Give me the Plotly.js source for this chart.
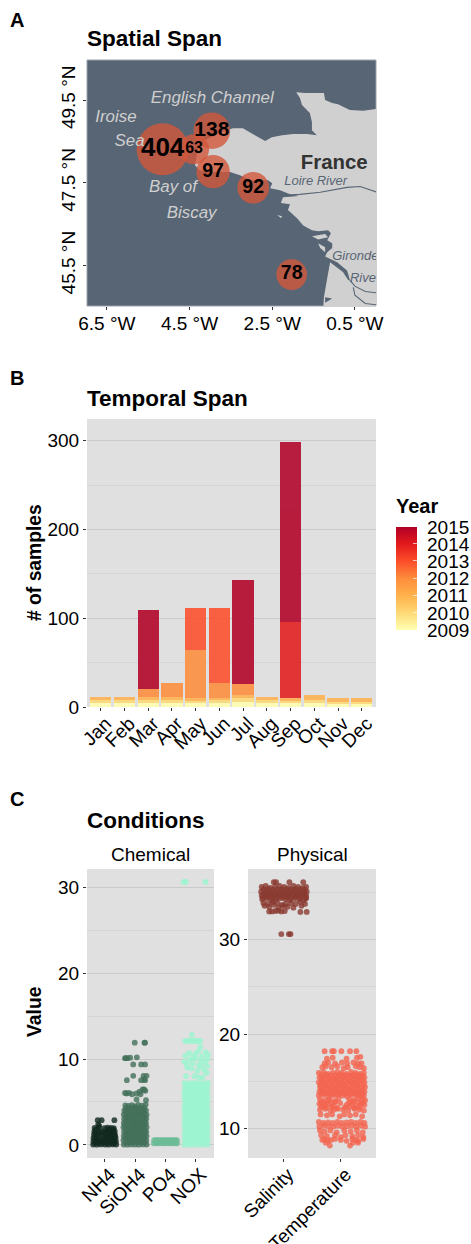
<!DOCTYPE html>
<html><head><meta charset="utf-8">
<script src="https://cdn.plot.ly/plotly-3.0.1.min.js"></script>
<style>html,body{margin:0;padding:0;background:#fff}</style></head>
<body><div id="chart" style="width:471px;height:1244px"></div>
<script>
// ---------- Panel A data (degrees) ----------
const landLon=[0.1,-0.30,-0.62,-0.91,-1.05,-1.22,-1.25,-1.46,-1.71,-1.92,-1.83,-1.78,-1.59,-1.54,-1.54,-1.42,-1.66,-2.00,-2.26,-2.51,-2.67,-2.92,-3.21,-3.45,-3.72,-4.13,-4.30,-4.37,-4.25,-3.89,-3.52,-3.28,-3.04,-2.60,-2.50,-2.55,-2.31,-2.07,-1.85,-2.07,-2.24,-2.29,-2.07,-2.12,-1.90,-1.75,-1.54,-1.39,-1.15,-1.08,-1.17,-1.05,-1.05,-1.17,-1.22,-0.93,-0.69,-0.62,-0.66,-0.79,-1.10,-1.17,-1.25,-1.27,0.1];
const landLat=[49.30,49.24,49.26,49.40,49.43,49.50,49.67,49.67,49.67,49.69,49.55,49.38,49.19,48.97,48.77,48.65,48.68,48.68,48.65,48.60,48.51,48.65,48.82,48.82,48.73,48.53,48.29,47.93,47.80,47.76,47.76,47.68,47.56,47.56,47.49,47.37,47.32,47.22,47.18,47.16,47.15,47.01,46.98,46.84,46.64,46.47,46.35,46.33,46.35,46.28,46.11,46.04,45.92,45.82,45.72,45.58,45.38,45.14,45.14,45.34,45.58,45.19,44.73,44.4,44.4];
const islandLon=[-1.54,-1.22,-1.15,-1.39,-1.54,null,-1.39,-1.22,-1.22,-1.34,-1.39,null,-2.38,-2.26,-2.29,-2.38,-2.38];
const islandLat=[46.21,46.26,46.18,46.13,46.21,null,46.04,45.94,45.82,45.92,46.04,null,46.72,46.69,46.65,46.70,46.72];
const basinLon=[-1.22,-1.05,-1.22,-1.22];
const basinLat=[44.73,44.70,44.60,44.73];
const riverLon=[-2.24,-1.83,-1.34,-0.69,-0.37,0.1,null,-0.62,-0.50,-0.25,0.1,null,-0.54,-0.50,-0.25,0.1];
const riverLat=[47.20,47.22,47.27,47.39,47.41,47.25,null,45.14,45.0,44.87,44.83,null,44.97,44.78,44.58,44.54];
const siteLon=[-5.15,-4.39,-3.96,-3.93,-2.96,-2.03];
const siteLat=[48.31,48.31,48.76,47.77,47.38,45.28];
const siteCount=[404,63,138,97,92,78];
const siteDiam=[52,30,36.6,33.4,31.6,30.6];
const siteFont=[26,16,21,19.5,19.5,19.5];
const seaNames=['English Channel','Iroise','Sea','Bay of','Biscay'];
const seaLon=[-3.95,-6.28,-5.95,-4.9,-4.45];
const seaLat=[49.52,49.08,48.48,47.37,46.75];
const xTicksA=[-6.5,-4.5,-2.5,-0.5], xLabelsA=['6.5 °W','4.5 °W','2.5 °W','0.5 °W'];
const yTicksA=[45.5,47.5,49.5], yLabelsA=['45.5 °N','47.5 °N','49.5 °N'];

// ---------- Panel B data ----------
const months=['Jan','Feb','Mar','Apr','May','Jun','Jul','Aug','Sep','Oct','Nov','Dec'];
const monthIdx=[1,2,3,4,5,6,7,8,9,10,11,12];
const years=[2009,2010,2011,2012,2013,2014,2015];
const y2009=[4,4,4,4,4,4,6,4,4,4,3,3];
const y2010=[4,4,4,4,3,4,4,4,3,4,3,3];
const y2011=[3.5,3.5,3.5,3,3,2,3,3.5,3,5.5,4,4];
const y2012=[0,0,9,15.5,54,17,13,0,0,0,0,0];
const y2013=[0,0,0,0,48,85,0,0,0,0,0,0];
const y2014=[0,0,0,0,0,0,0,0,86,0,0,0];
const y2015=[0,0,88.5,0,0,0,117,0,203,0,0,0];
const yearCounts=[y2009,y2010,y2011,y2012,y2013,y2014,y2015];
const yearColours=['#FFFFB2','#FED976','#FEB24C','#FD8D3C','#FC4E2A','#E31A1C','#B10026'];

// ---------- Panel C data ----------
const chemNames=['NH4','SiOH4','PO4','NOX'];
const physNames=['Salinity','Temperature'];
const nh4X=[.62,.74,.88,1.01,1.13,1.27,1.38,.63,.76,.87,1.0,1.14,1.25,1.37,.63,.75,.89,1.02,1.12,1.26,1.36,.65,.77,.9,1.03,1.15,1.28,1.34,.66,.78,.91,1.06,1.17,1.27,1.33,.67,.8,.99,1.09,1.2,1.3,.77,.9,1.32,.79,.82,
.68,.81,.94,1.07,1.2,1.32,.69,.82,.95,1.08,1.21,1.31,.68,1.08,1.19,1.33,.7,.83,.96,1.09,1.22,1.3,.72,1.1,1.18,1.29];
const nh4Y=[.05,.04,.06,.05,.04,.06,.05,.42,.38,.44,.4,.41,.37,.43,.8,.84,.78,.82,.85,.79,.81,1.22,1.18,1.25,1.2,1.17,1.23,1.19,1.6,1.56,1.62,1.58,1.63,1.57,1.6,2.0,1.98,1.96,2.02,2.0,1.97,2.88,2.88,2.88,2.4,2.2,
.22,.2,.24,.21,.23,.2,.6,.62,.58,.61,.59,.63,1.0,1.02,.98,1.01,1.4,1.38,1.42,1.39,1.41,1.37,1.8,1.78,1.82,1.79];
const siX=[1.63,1.75,1.88,2.0,2.12,2.26,2.38,1.62,1.76,1.87,2.01,2.13,2.25,2.37,1.63,1.74,1.89,1.99,2.14,2.27,2.38,1.64,1.77,1.86,2.02,2.12,2.24,2.37,1.62,1.75,1.88,2.0,2.15,2.26,2.38,1.63,1.76,1.9,2.03,2.11,2.25,2.36,1.64,1.74,1.87,1.99,2.13,2.27,2.37,1.63,1.77,1.89,2.01,2.14,2.24,2.38,1.65,1.75,1.86,2.02,2.12,2.26,2.36,1.68,1.79,1.9,2.0,2.1,2.22,2.35,
1.99,2.31,2.33,1.67,1.7,1.75,1.84,2.06,1.94,2.2,2.33,1.73,1.94,2.28,2.38,2.3,2.2,2.33,1.67,1.72,1.8,1.9,2.05,2.15,2.25,2.3,2.34,2.18,2.36,2.05,
1.69,1.81,1.94,2.06,2.19,2.32,1.68,1.82,1.95,2.07,2.2,2.31,1.7,1.8,1.93,2.05,2.18,2.33,1.69,1.83,1.96,2.08,2.21,2.32,1.67,1.81,1.94,2.06,2.19,2.31,1.68,1.82,1.93,2.07,2.2,2.33,1.7,1.8,1.95,2.05,2.18,2.32,1.69,1.83,1.94,2.08,2.21,2.31,1.71,1.84,1.97,2.06,2.19,2.3];
const siY=[.05,.04,.06,.05,.04,.06,.05,.55,.52,.57,.54,.51,.56,.53,1.05,1.08,1.02,1.06,1.03,1.07,1.04,1.55,1.52,1.58,1.54,1.51,1.57,1.53,2.05,2.02,2.08,2.04,2.07,2.01,2.06,2.55,2.52,2.58,2.54,2.51,2.57,2.53,3.05,3.08,3.02,3.06,3.03,3.07,3.04,3.55,3.52,3.58,3.54,3.51,3.57,3.53,4.05,4.08,4.02,4.06,4.03,4.07,4.04,4.6,4.55,4.62,4.5,4.66,4.58,4.7,
11.9,11.9,11.9,10.1,10.1,10.1,10.15,10.2,9.37,9.37,9.37,7.54,8.04,8.04,8.04,7.6,7.54,7.54,6.06,6.0,6.06,5.9,6.0,6.2,6.45,6.45,6.3,5.9,5.2,5.3,
.3,.28,.32,.31,.27,.3,.8,.82,.78,.81,.79,.83,1.3,1.28,1.32,1.29,1.31,1.33,1.8,1.82,1.78,1.81,1.79,1.77,2.3,2.28,2.32,2.29,2.31,2.33,2.8,2.82,2.78,2.81,2.79,2.77,3.3,3.28,3.32,3.29,3.31,3.33,3.8,3.82,3.78,3.81,3.79,3.77,4.3,4.32,4.28,4.31,4.29,4.33];
const po4X=[2.62,2.74,2.87,3.0,3.13,3.26,3.38,2.63,2.75,2.88,3.01,3.14,3.27,3.38,2.68,2.81,2.94,3.07,3.2,3.33,2.69,2.8,2.93,3.06,3.19,3.32];
const po4Y=[.2,.2,.22,.2,.2,.22,.2,.55,.55,.57,.55,.55,.57,.55,.22,.2,.2,.22,.2,.2,.55,.57,.55,.55,.57,.55];
const noxX=[3.62,3.74,3.87,4.0,4.13,4.26,4.39,3.63,3.76,3.88,4.01,4.14,4.27,4.4,3.62,3.75,3.86,3.99,4.12,4.25,4.38,3.64,3.77,3.89,4.02,4.15,4.26,4.39,3.63,3.74,3.87,4.0,4.13,4.27,4.4,3.62,3.76,3.88,4.01,4.14,4.25,4.38,3.64,3.75,3.86,3.99,4.12,4.26,4.39,3.63,3.77,3.89,4.02,4.15,4.27,4.4,3.62,3.74,3.87,4.0,4.13,4.25,4.38,3.64,3.76,3.88,4.01,4.14,4.26,4.39,3.63,3.75,3.86,3.99,4.12,4.27,4.4,3.62,3.77,3.89,4.02,4.15,4.25,4.38,3.64,3.74,3.87,4.0,4.13,4.26,4.39,3.63,3.76,3.88,4.01,4.14,4.27,4.4,
3.68,3.95,4.1,4.22,4.36,3.62,3.7,3.8,3.9,4.0,4.1,4.18,4.3,4.38,3.66,3.78,3.9,3.98,4.08,4.2,4.32,4.4,3.72,3.86,4.05,4.16,4.28,4.37,3.65,3.72,3.8,3.88,3.96,4.02,4.08,4.14,3.87,4.15,3.6,3.67,4.32,
3.68,3.81,3.94,4.06,4.19,4.33,3.69,3.82,3.95,4.07,4.2,4.32,3.67,3.8,3.93,4.05,4.18,4.34,3.68,3.83,3.96,4.08,4.21,4.33,3.7,3.81,3.94,4.06,4.19,4.31,3.69,3.82,3.93,4.07,4.2,4.33,3.67,3.8,3.95,4.05,4.18,4.32,3.68,3.83,3.94,4.08,4.21,4.34,3.7,3.81,3.96,4.06,4.19,4.33,3.69,3.82,3.93,4.07,4.2,4.31,3.67,3.8,3.95,4.05,4.18,4.32,3.68,3.83,3.94,4.08,4.21,4.33,3.7,3.81,3.96,4.06,4.19,4.34];
const noxY=[.05,.03,.06,.04,.05,.03,.06,.6,.57,.63,.59,.61,.56,.62,1.15,1.12,1.18,1.14,1.16,1.11,1.17,1.7,1.67,1.73,1.69,1.71,1.66,1.72,2.25,2.22,2.28,2.24,2.26,2.21,2.27,2.8,2.77,2.83,2.79,2.81,2.76,2.82,3.35,3.32,3.38,3.34,3.36,3.31,3.37,3.9,3.87,3.93,3.89,3.91,3.86,3.92,4.45,4.42,4.48,4.44,4.46,4.41,4.47,5.0,4.97,5.03,4.99,5.01,4.96,5.02,5.55,5.52,5.58,5.54,5.56,5.51,5.57,6.1,6.07,6.13,6.09,6.11,6.06,6.12,6.65,6.62,6.68,6.64,6.66,6.61,6.67,7.2,7.17,7.23,7.19,7.21,7.16,7.22,
8.0,8.0,7.9,7.85,8.4,9.7,9.4,9.9,9.5,10.1,9.3,9.8,9.6,10.0,10.4,10.7,10.2,10.6,10.9,10.3,10.8,10.5,9.0,8.9,8.6,9.1,8.7,9.2,12.1,12.1,12.1,12.1,12.1,12.1,12.1,12.1,12.8,11.4,30.6,30.6,30.6,
.33,.31,.35,.32,.34,.3,.88,.86,.9,.87,.89,.85,1.42,1.4,1.44,1.41,1.43,1.39,1.98,1.96,2.0,1.97,1.99,1.95,2.52,2.5,2.54,2.51,2.53,2.49,3.08,3.06,3.1,3.07,3.09,3.05,3.62,3.6,3.64,3.61,3.63,3.59,4.18,4.16,4.2,4.17,4.19,4.15,4.72,4.7,4.74,4.71,4.73,4.69,5.28,5.26,5.3,5.27,5.29,5.25,5.82,5.8,5.84,5.81,5.83,5.79,6.38,6.36,6.4,6.37,6.39,6.35,6.92,6.9,6.94,6.91,6.93,6.89];
const salX=[.63,.7,.78,.86,.94,1.02,1.1,1.18,1.26,1.34,1.4,.62,.71,.79,.87,.95,1.03,1.11,1.19,1.27,1.35,1.41,.63,.7,.77,.85,.93,1.01,1.09,1.17,1.25,1.33,1.4,.64,.72,.8,.88,.96,1.04,1.12,1.2,1.28,1.36,1.4,
.66,.74,.82,.9,.98,1.05,1.14,1.22,1.3,1.38,.68,.76,.84,.92,1.0,1.08,1.18,1.32,.76,.81,.87,.92,.97,1.03,1.3,1.41,.84,.88,1.11,1.35,.97,1.1,1.13,
.66,.74,.82,.9,.98,1.06,1.14,1.22,1.3,1.38,.67,.75,.83,.91,.99,1.07,1.15,1.23,1.31,1.37,.65,.73,.81,.89,.97,1.05,1.13,1.21,1.29,1.39];
const salY=[35.6,35.7,35.5,35.6,35.7,35.6,35.5,35.7,35.6,35.5,35.6,35.1,35.2,35.0,35.1,35.2,35.1,35.0,35.2,35.1,35.0,35.1,34.7,34.8,34.6,34.7,34.8,34.7,34.6,34.8,34.7,34.6,34.7,34.3,34.4,34.2,34.3,34.4,34.3,34.2,34.4,34.3,34.2,34.4,
33.9,33.8,34.0,33.9,33.7,33.8,33.9,33.8,34.0,33.8,33.6,33.5,33.7,33.4,33.6,33.5,33.4,33.6,33.0,33.0,33.05,33.1,33.0,33.05,32.95,32.95,36.1,36.1,36.1,36.1,30.6,30.6,30.6,
35.35,35.4,35.3,35.35,35.4,35.35,35.3,35.4,35.35,35.3,34.9,34.95,34.85,34.9,34.95,34.9,34.85,34.95,34.9,34.85,34.5,34.55,34.45,34.5,34.55,34.5,34.45,34.55,34.5,34.45];
const tmpX=[1.62,1.7,1.78,1.86,1.94,2.02,2.1,2.18,2.26,2.34,2.4,1.63,1.71,1.79,1.87,1.95,2.03,2.11,2.19,2.27,2.35,2.41,1.62,1.69,1.77,1.85,1.93,2.01,2.09,2.17,2.25,2.33,2.41,1.64,1.72,1.8,1.88,1.96,2.04,2.12,2.2,2.28,2.36,2.42,1.63,1.7,1.78,1.86,1.94,2.02,2.1,2.18,2.26,2.34,2.41,1.62,1.71,1.79,1.87,1.95,2.03,2.11,2.19,2.27,2.35,2.4,
1.64,1.72,1.8,1.9,1.96,2.15,2.22,2.3,2.38,2.42,1.63,1.7,1.78,1.86,1.99,2.1,2.19,2.27,2.35,2.41,1.64,1.73,1.82,1.88,1.95,2.04,2.13,2.24,2.32,2.4,1.65,1.76,1.85,1.98,2.06,2.16,2.26,2.37,1.62,1.7,1.78,1.86,1.94,2.02,2.1,2.18,2.26,2.34,2.41,1.63,1.71,1.79,1.87,1.95,2.03,2.11,2.19,2.27,2.35,2.42,
1.64,1.72,1.82,1.93,2.06,2.17,2.28,2.38,1.66,1.76,1.9,2.0,2.08,2.2,2.3,2.39,1.68,1.74,1.84,1.94,2.05,2.12,2.26,2.33,2.4,1.72,1.78,1.9,2.02,2.11,2.22,2.3,2.36,1.76,1.86,2.1,2.28,2.34,1.68,1.72,1.78,1.83,1.9,2.0,2.1,2.2,2.26,2.39,1.74,2.21,2.3,1.81,2.16,2.3,1.72,1.85,1.88,2.01,2.16,2.27,
1.66,1.74,1.82,1.9,1.98,2.06,2.14,2.22,2.3,2.38,1.67,1.75,1.83,1.91,1.99,2.07,2.15,2.23,2.31,2.37,1.65,1.73,1.81,1.89,1.97,2.05,2.13,2.21,2.29,2.39,1.66,1.74,1.82,1.9,1.98,2.06,2.14,2.22,2.3,2.38,1.67,1.75,1.83,1.91,1.99,2.07,2.15,2.23,2.31,2.37,1.66,1.74,1.82,1.9,2.14,2.22,2.3,2.38,1.67,1.75,1.85,1.93,2.07,2.15,2.23,2.33];
const tmpY=[15.9,16,15.8,15.9,16,15.9,15.8,16,15.9,15.8,15.9,15.4,15.5,15.3,15.4,15.5,15.4,15.3,15.5,15.4,15.3,15.4,14.9,15,14.8,14.9,15,14.9,14.8,15,14.9,14.8,14.9,14.4,14.5,14.3,14.4,14.5,14.4,14.3,14.5,14.4,14.3,14.4,13.9,14,13.8,13.9,14,13.9,13.8,14,13.9,13.8,13.9,13.5,13.6,13.4,13.5,13.6,13.5,13.4,13.6,13.5,13.4,13.5,
13.1,13.0,13.1,12.9,13.2,13.1,13.0,13.2,13.1,13.0,12.6,12.5,12.6,12.4,12.7,12.5,12.6,12.4,12.6,12.5,12.0,12.1,11.9,12.0,12.1,12.0,11.9,12.1,12.0,11.9,11.5,11.4,11.5,11.3,11.5,11.4,11.5,11.3,10.7,10.6,10.65,10.6,10.7,10.6,10.65,10.7,10.6,10.7,10.6,10.2,10.3,10.25,10.2,10.3,10.2,10.25,10.3,10.2,10.3,10.2,
9.8,9.7,9.8,9.6,9.8,9.7,9.8,9.6,9.3,9.2,9.3,9.1,9.3,9.2,9.3,9.1,16.5,16.6,16.5,16.6,16.4,16.5,16.6,16.5,16.4,16.9,17.0,16.9,17.0,16.9,17.0,16.9,16.9,17.4,17.5,17.4,17.5,17.6,8.8,8.9,8.7,8.8,8.9,8.8,8.7,8.9,8.8,8.9,8.5,8.5,8.7,8.2,8.2,8.5,18.2,18.2,18.2,18.2,18.2,18.2,
15.65,15.7,15.6,15.65,15.7,15.65,15.6,15.7,15.65,15.6,15.15,15.2,15.1,15.15,15.2,15.15,15.1,15.2,15.15,15.1,14.65,14.7,14.6,14.65,14.7,14.65,14.6,14.7,14.65,14.6,14.15,14.2,14.1,14.15,14.2,14.15,14.1,14.2,14.15,14.1,13.7,13.75,13.65,13.7,13.75,13.7,13.65,13.75,13.7,13.65,12.8,12.75,12.85,12.8,12.75,12.85,12.8,12.75,12.3,12.25,12.3,12.2,12.25,12.3,12.2,12.25];

// ---------- Page geometry helpers ----------
const W=471,H=1244;
const dx=(a,b)=>[a/W,b/W];
const dy=(top,bot)=>[1-bot/H,1-top/H];
const FONT='Liberation Sans, Arial, sans-serif';
const SEA='#586574', PANEL='#E0E0E0', GRID='#CACACA', MINOR='#D4D4D4';

const traces=[];
// Panel A
traces.push({type:'scatter',mode:'lines',x:landLon,y:landLat,xaxis:'x',yaxis:'y',fill:'toself',fillcolor:'#D0D0D0',line:{width:0},hoverinfo:'skip'});
traces.push({type:'scatter',mode:'lines',x:islandLon,y:islandLat,xaxis:'x',yaxis:'y',fill:'toself',fillcolor:'#D0D0D0',line:{width:0},hoverinfo:'skip'});
traces.push({type:'scatter',mode:'lines',x:basinLon,y:basinLat,xaxis:'x',yaxis:'y',fill:'toself',fillcolor:SEA,line:{width:0},hoverinfo:'skip'});
traces.push({type:'scatter',mode:'lines',x:riverLon,y:riverLat,xaxis:'x',yaxis:'y',line:{color:SEA,width:1.1},hoverinfo:'skip'});
traces.push({type:'scatter',mode:'markers+text',x:siteLon,y:siteLat,xaxis:'x',yaxis:'y',text:siteCount.map(String),textposition:'middle center',
  textfont:{family:FONT,size:siteFont,color:'#000',weight:700},marker:{size:siteDiam,color:'#D2573C',opacity:.8,line:{width:0}}});
traces.push({type:'scatter',mode:'text',x:seaLon,y:seaLat,xaxis:'x',yaxis:'y',text:seaNames,textposition:'middle center',
  textfont:{family:FONT,size:16.9,color:'#CFCFCF',style:'italic'}});
traces.push({type:'scatter',mode:'text',x:[-1.0],y:[47.95],xaxis:'x',yaxis:'y',text:['France'],textposition:'middle center',
  textfont:{family:FONT,size:20.4,color:'#333',weight:700}});
traces.push({type:'scatter',mode:'text',x:[-1.45,-1.05,-0.62],y:[47.52,45.72,45.17],xaxis:'x',yaxis:'y',text:['Loire River','Gironde','River'],textposition:['middle center','middle right','middle right'],
  textfont:{family:FONT,size:13,color:SEA,style:'italic'}});
// Panel B
years.forEach((yr,i)=>{
  const t={type:'bar',x:monthIdx,y:yearCounts[i],xaxis:'x2',yaxis:'y2',name:String(yr),width:.9,opacity:.87,
    marker:{color:monthIdx.map(()=>yr),cmin:2009,cmax:2015,line:{width:0},
      colorscale:yearColours.map((c,k)=>[k/6,c]),showscale:i===0}};
  if(i===0) t.marker.colorbar={tickmode:'array',tickvals:years,showticklabels:false,
    lenmode:'pixels',len:103,thicknessmode:'pixels',thickness:21,x:396/W,xanchor:'left',xpad:0,y:1-578/H,yanchor:'middle',ypad:0,
    outlinewidth:0,ticks:'inside',ticklen:4,tickcolor:'#fff',tickwidth:.7};
  traces.push(t);
});
// Panel C
const pts=(x,y,c,xa,ya)=>({type:'scatter',mode:'markers',x,y,xaxis:xa,yaxis:ya,marker:{size:5.8,color:c,opacity:.8,line:{width:0}}});
traces.push(pts(nh4X,nh4Y,'#12291F','x3','y3'));
traces.push(pts(siX,siY,'#44705A','x3','y3'));
traces.push(pts(po4X,po4Y,'#6CBB96','x3','y3'));
traces.push(pts(noxX,noxY,'#9BF5CF','x3','y3'));
traces.push(pts(salX,salY,'#8A3A2F','x4','y4'));
traces.push(pts(tmpX,tmpY,'#F4644F','x4','y4'));

const tickBase={ticks:'outside',ticklen:3,tickwidth:1,tickcolor:'#333',showline:false,zeroline:false,showgrid:false,automargin:false,
  tickfont:{family:FONT,size:19,color:'#000'}};
const rotated={tickangle:-45,ticklabelshift:5,ticklabelstandoff:-6};
const panelRect=(xr,yr,c,line)=>({type:'rect',layer:'below',xref:xr+' domain',yref:yr+' domain',x0:0,x1:1,y0:0,y1:1,fillcolor:c,line:line||{width:0}});
const ann=(text,px,py,size,opts)=>Object.assign({text,xref:'paper',yref:'paper',x:px/W,y:1-py/H,showarrow:false,xanchor:'left',yanchor:'middle',
  font:{family:FONT,size,color:'#000',weight:700}},opts||{});
const plain=(size)=>({font:{family:FONT,size,color:'#000',weight:400}});

const layout={
  width:W,height:H,margin:{l:0,r:0,t:0,b:0},paper_bgcolor:'#fff',plot_bgcolor:'rgba(0,0,0,0)',showlegend:false,barmode:'stack',hovermode:false,
  xaxis:Object.assign({},tickBase,{domain:dx(87,376),range:[-6.98,0.01],tickmode:'array',tickvals:xTicksA,ticktext:xLabelsA,anchor:'y',ticklabelstandoff:-3}),
  yaxis:Object.assign({},tickBase,{domain:dy(60,306),range:[44.52,50.47],tickmode:'array',tickvals:yTicksA,ticktext:yLabelsA,anchor:'x',tickangle:-90}),
  xaxis2:Object.assign({},tickBase,rotated,{domain:dx(87,376),range:[.42,12.6],tickmode:'array',tickvals:monthIdx,ticktext:months,anchor:'y2'}),
  yaxis2:Object.assign({},tickBase,{domain:dy(419,707),range:[0,324.5],tickmode:'array',tickvals:[0,100,200,300],anchor:'x2',showgrid:true,gridcolor:GRID,gridwidth:1,
    minor:{tickmode:'array',tickvals:[50,150,250],showgrid:true,gridcolor:MINOR,gridwidth:1,ticks:''}}),
  xaxis3:Object.assign({},tickBase,rotated,{domain:dx(87,214),range:[.418,4.6],tickmode:'array',tickvals:[1,2,3,4],ticktext:chemNames,anchor:'y3'}),
  yaxis3:Object.assign({},tickBase,{domain:dy(869,1158),range:[-1.515,32.1],tickmode:'array',tickvals:[0,10,20,30],anchor:'x3',showgrid:true,gridcolor:GRID,gridwidth:1,
    minor:{tickmode:'array',tickvals:[5,15,25],showgrid:true,gridcolor:MINOR,gridwidth:1,ticks:''}}),
  xaxis4:Object.assign({},tickBase,rotated,{domain:dx(248,376),range:[.393,2.61],tickmode:'array',tickvals:[1,2],ticktext:physNames,anchor:'y4'}),
  yaxis4:Object.assign({},tickBase,{domain:dy(869,1158),range:[6.88,37.5],tickmode:'array',tickvals:[10,20,30],anchor:'x4',showgrid:true,gridcolor:GRID,gridwidth:1,
    minor:{tickmode:'array',tickvals:[15,25,35],showgrid:true,gridcolor:MINOR,gridwidth:1,ticks:''}}),
  shapes:[panelRect('x','y',SEA,{color:'#9AA3AD',width:1}),panelRect('x2','y2',PANEL),panelRect('x3','y3',PANEL),panelRect('x4','y4',PANEL)],
  annotations:[
    ann('A',8,20,20),ann('B',8,378,20),ann('C',8,799,20),
    ann('Spatial Span',85,39,22.5),ann('Temporal Span',85,398,22.5),ann('Conditions',85,820,22.5),
    ann('Year',394,506,20),
    ann('# of samples',34,563,19.3,{textangle:-90,xanchor:'center'}),
    ann('Value',34,1012,19.3,{textangle:-90,xanchor:'center'}),
    ann('Chemical',150,854,19,Object.assign({xanchor:'center'},plain(19))),
    ann('Physical',312,854,19,Object.assign({xanchor:'center'},plain(19)))
  ].concat(years.map(yr=>ann(String(yr),425,527+(2015-yr)*17.2,19,plain(19))))
};
Plotly.newPlot('chart',traces,layout,{displayModeBar:false,staticPlot:true});
</script></body></html>
